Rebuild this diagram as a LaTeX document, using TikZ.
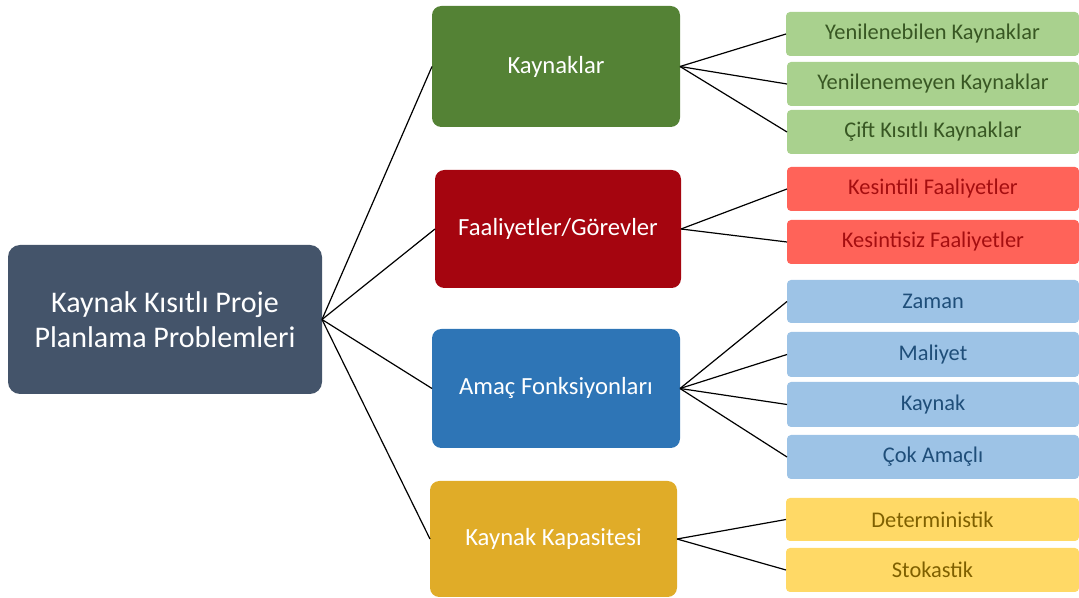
\documentclass[tikz,border=0pt]{standalone}
\usepackage{fontspec}
\setmainfont{Carlito}
\definecolor{rootc}{HTML}{44546A}
\definecolor{greenc}{HTML}{548235}
\definecolor{redc}{HTML}{A5050F}
\definecolor{bluec}{HTML}{2E75B6}
\definecolor{goldc}{HTML}{E0AC28}
\definecolor{greenl}{HTML}{A9D18E}
\definecolor{redl}{HTML}{FF6359}
\definecolor{bluel}{HTML}{9DC3E6}
\definecolor{goldl}{HTML}{FFD966}
\definecolor{greent}{HTML}{385723}
\definecolor{redt}{HTML}{A50E10}
\definecolor{bluet}{HTML}{1F4E79}
\definecolor{goldt}{HTML}{7F6000}
\newcommand\mybox[7]{\node[#6, minimum width={(#4-#2)*0.75pt}, minimum height={(#5-#3)*0.75pt}] (#1) at ({(#2+#4)/2},{-(#3+#5)/2}) {#7};}
\tikzset{
  base/.style={inner sep=0pt, outer sep=0pt, align=center},
  rootbox/.style={base, fill=rootc, text=white, rounded corners=9pt, font=\fontsize{22.5}{26}\selectfont},
  midbox/.style={base, fill=#1, text=white, rounded corners=7pt, font=\fontsize{18.5}{22}\selectfont},
  leafbox/.style 2 args={base, fill=#1, text=#2, rounded corners=3pt, font=\fontsize{16.8}{20}\selectfont},
  link/.style={draw=black, line width=0.9pt},
}
\begin{document}
\begin{tikzpicture}[x=0.75pt,y=0.75pt]
\useasboundingbox (0,0) rectangle (1079,-598);
\mybox{root}{8}{245}{322}{394}{rootbox}{Kaynak Kısıtlı Proje\\Planlama Problemleri}
\mybox{kay}{432}{6}{680}{127}{midbox=greenc}{Kaynaklar}
\mybox{faa}{435}{170}{681}{288}{midbox=redc}{Faaliyetler/Görevler}
\mybox{ama}{432}{329}{680}{448}{midbox=bluec}{Amaç Fonksiyonları}
\mybox{kap}{430}{481}{677}{597}{midbox=goldc}{Kaynak Kapasitesi}
\mybox{l1}{786}{12}{1079}{56}{leafbox={greenl}{greent}}{Yenilenebilen Kaynaklar}
\mybox{l2}{787}{62}{1079}{106}{leafbox={greenl}{greent}}{Yenilenemeyen Kaynaklar}
\mybox{l3}{787}{110}{1079}{154}{leafbox={greenl}{greent}}{Çift Kısıtlı Kaynaklar}
\mybox{l4}{787}{167}{1079}{211}{leafbox={redl}{redt}}{Kesintili Faaliyetler}
\mybox{l5}{787}{220}{1079}{264}{leafbox={redl}{redt}}{Kesintisiz Faaliyetler}
\mybox{l6}{787}{280}{1079}{323}{leafbox={bluel}{bluet}}{Zaman}
\mybox{l7}{787}{332}{1079}{377}{leafbox={bluel}{bluet}}{Maliyet}
\mybox{l8}{787}{382}{1079}{427}{leafbox={bluel}{bluet}}{Kaynak}
\mybox{l9}{787}{435}{1079}{479}{leafbox={bluel}{bluet}}{Çok Amaçlı}
\mybox{l10}{786}{498}{1079}{541}{leafbox={goldl}{goldt}}{Deterministik}
\mybox{l11}{786}{548}{1079}{592}{leafbox={goldl}{goldt}}{Stokastik}
\foreach \m in {kay,faa,ama,kap} \draw[link] (root.east) -- (\m.west);
\foreach \l in {l1,l2,l3} \draw[link] (kay.east) -- (\l.west);
\foreach \l in {l4,l5} \draw[link] (faa.east) -- (\l.west);
\foreach \l in {l6,l7,l8,l9} \draw[link] (ama.east) -- (\l.west);
\foreach \l in {l10,l11} \draw[link] (kap.east) -- (\l.west);
\end{tikzpicture}
\end{document}
